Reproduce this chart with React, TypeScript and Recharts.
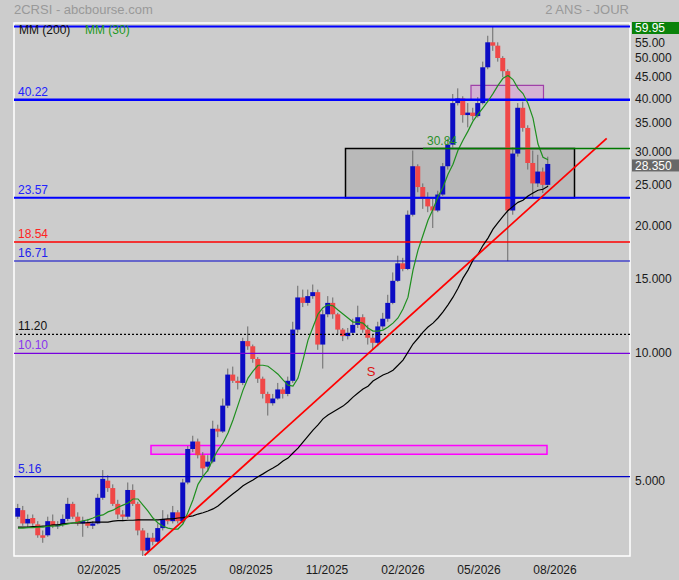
import React from "react";
import {
  ComposedChart,
  Bar,
  Line,
  XAxis,
  YAxis,
  ReferenceLine,
  ReferenceArea,
  ReferenceDot,
} from "recharts";

const FONT = "'Liberation Sans', Arial, sans-serif";

// x unit = one candle (about 4 sessions); candle i sits at x = i
const xTicks = [16.2, 31.4, 46.6, 61.8, 77.0, 92.2, 107.4];
const xTickLabels = ["02/2025", "05/2025", "08/2025", "11/2025", "02/2026", "05/2026", "08/2026"];

const yTicks = [5, 10, 15, 20, 25, 30, 35, 40, 45, 50, 55];
const yTickLabels = ["5.000", "10.000", "15.000", "20.000", "25.000", "30.000", "35.000", "40.000", "45.000", "50.000", "55.00"];

// open, high, low, close
const ohlc: [number, number, number, number][] = [
  [4.15, 4.45, 4.1, 4.35], [4.3, 4.4, 3.95, 4.0], [4.0, 4.2, 3.9, 4.1], [4.12, 4.2, 3.95, 4.0], [3.98, 4.05, 3.7, 3.75],
  [3.75, 3.85, 3.6, 3.7], [3.75, 4.15, 3.72, 4.05], [4.05, 4.2, 3.9, 3.95], [3.95, 4.05, 3.88, 3.97], [3.97, 4.2, 3.93, 4.1],
  [4.1, 4.6, 4.05, 4.45], [4.45, 4.5, 4.1, 4.15], [4.15, 4.25, 3.95, 4.0], [4.0, 4.15, 3.72, 4.05], [4.02, 4.1, 3.9, 3.95],
  [3.95, 4.05, 3.88, 4.0], [4.0, 4.7, 3.98, 4.6], [4.6, 5.35, 4.55, 5.1], [5.05, 5.2, 4.75, 4.85], [4.85, 4.95, 4.4, 4.45],
  [4.45, 4.55, 4.1, 4.2], [4.2, 4.3, 4.05, 4.15], [4.15, 5.0, 4.1, 4.8], [4.8, 4.95, 4.4, 4.45], [4.45, 4.5, 3.75, 3.85],
  [3.85, 3.9, 3.35, 3.45], [3.45, 3.8, 3.4, 3.7], [3.7, 3.8, 3.55, 3.62], [3.62, 4.0, 3.6, 3.9], [3.9, 4.3, 3.85, 4.1],
  [4.1, 4.2, 3.98, 4.05], [4.05, 4.4, 4.0, 4.25], [4.25, 4.3, 4.0, 4.05], [4.05, 5.1, 4.0, 5.0], [5.0, 6.1, 4.95, 6.0],
  [6.0, 6.45, 5.9, 6.25], [6.25, 6.35, 5.7, 5.8], [5.8, 5.9, 5.15, 5.4], [5.45, 5.8, 5.3, 5.6], [5.6, 7.0, 5.55, 6.7],
  [6.7, 6.85, 6.4, 6.6], [6.6, 7.9, 6.55, 7.6], [7.6, 9.3, 7.5, 9.0], [9.0, 9.4, 8.6, 8.7], [8.7, 8.9, 8.3, 8.6],
  [8.6, 11.0, 8.5, 10.8], [10.8, 11.7, 10.3, 10.5], [10.5, 10.6, 9.6, 9.8], [9.8, 9.9, 8.6, 8.8], [8.8, 8.9, 7.9, 8.1],
  [8.1, 8.2, 7.2, 7.7], [7.7, 8.1, 7.6, 7.9], [7.9, 8.6, 7.85, 8.3], [8.3, 8.4, 7.9, 8.1], [8.1, 8.9, 8.0, 8.7],
  [8.7, 12.0, 8.6, 11.5], [11.5, 14.6, 11.3, 13.7], [13.7, 14.3, 13.0, 13.3], [13.3, 14.3, 13.1, 13.8], [13.8, 14.7, 13.6, 14.1],
  [14.1, 14.3, 10.3, 10.6], [10.6, 12.8, 9.3, 12.5], [12.5, 13.8, 12.3, 13.3], [13.3, 13.7, 12.2, 12.5], [12.5, 12.6, 11.2, 11.5],
  [11.5, 11.6, 10.8, 11.1], [11.1, 11.6, 10.9, 11.3], [11.3, 12.2, 11.2, 11.8], [11.8, 13.1, 11.6, 12.3], [12.3, 12.5, 11.3, 11.5],
  [11.5, 11.8, 10.6, 11.0], [11.0, 11.2, 10.3, 10.7], [10.7, 12.0, 10.5, 11.7], [11.7, 12.6, 11.5, 12.2], [12.2, 13.9, 12.0, 13.3],
  [13.3, 15.7, 13.2, 15.0], [15.0, 17.2, 14.9, 16.5], [16.5, 17.0, 15.8, 16.0], [16.0, 22.0, 15.9, 21.5], [21.5, 30.5, 21.3, 28.0],
  [28.0, 28.3, 24.3, 25.0], [25.0, 25.5, 22.2, 23.5], [23.5, 24.3, 21.8, 22.5], [22.5, 23.5, 20.0, 22.0], [22.0, 24.5, 21.8, 24.0],
  [24.0, 28.5, 23.8, 28.0], [28.0, 32.5, 27.5, 31.5], [31.5, 41.5, 31.0, 39.5], [39.5, 42.8, 39.0, 40.5], [40.5, 41.0, 35.5, 37.0],
  [37.0, 39.5, 34.6, 37.5], [37.5, 38.5, 36.0, 36.8], [36.8, 40.8, 36.5, 39.5], [39.5, 49.5, 39.2, 48.0], [48.0, 57.0, 47.5, 55.0],
  [55.0, 59.9, 52.5, 54.0], [54.0, 55.0, 49.5, 50.5], [50.5, 51.0, 45.5, 47.0], [47.0, 47.5, 16.7, 22.0], [22.0, 31.0, 21.5, 30.0],
  [30.0, 39.5, 29.5, 38.5], [38.5, 39.8, 33.8, 34.5], [34.5, 35.0, 27.5, 28.5], [28.5, 30.5, 23.5, 25.5], [25.5, 29.8, 25.0, 27.2],
  [27.2, 27.8, 24.2, 25.3], [25.3, 29.5, 25.0, 28.35],
];

const ma30 = [
  3.9, 3.9, 3.91, 3.91, 3.92, 3.92, 3.94, 3.94, 3.95, 3.97,
  3.99, 4.01, 4.03, 4.06, 4.08, 4.12, 4.17, 4.19, 4.26, 4.3,
  4.37, 4.42, 4.47, 4.57, 4.57, 4.42, 4.28, 4.12, 4.01, 3.94,
  3.9, 3.88, 3.88, 3.99, 4.25, 4.55, 4.95, 5.17, 5.35, 5.68,
  5.97, 6.2, 6.55, 7.03, 7.62, 8.27, 8.83, 9.17, 9.47, 9.47,
  9.42, 9.22, 9.02, 8.74, 8.5, 8.45, 8.83, 9.74, 10.86, 11.66,
  12.52, 12.95, 13.16, 13.09, 12.79, 12.52, 12.25, 11.98, 11.98, 11.91,
  11.6, 11.41, 11.41, 11.47, 11.66, 11.91, 12.25, 12.86, 13.72, 15.9,
  17.73, 19.23, 20.87, 22.15, 23.7, 24.97, 26.8, 28.3, 30.55, 32.25,
  33.9, 35.8, 37.2, 38.5, 39.9, 41.6, 43.5, 45.2, 45.9, 44.9,
  42.8, 41.6, 39.4, 36.4, 31.6, 29.4, 29.0,
];

const ma200 = [
  3.92, 3.92, 3.92, 3.93, 3.93, 3.94, 3.95, 3.97, 3.97, 3.99,
  4.0, 4.01, 4.01, 4.01, 4.02, 4.03, 4.03, 4.03, 4.03, 4.05,
  4.06, 4.06, 4.07, 4.07, 4.08, 4.08, 4.08, 4.08, 4.08, 4.09,
  4.1, 4.1, 4.12, 4.13, 4.15, 4.17, 4.21, 4.24, 4.28, 4.33,
  4.4, 4.5, 4.6, 4.7, 4.8, 4.91, 4.99, 5.07, 5.16, 5.24,
  5.33, 5.41, 5.5, 5.62, 5.71, 5.87, 6.03, 6.23, 6.44, 6.65,
  6.84, 7.07, 7.22, 7.34, 7.46, 7.58, 7.75, 7.96, 8.14, 8.32,
  8.45, 8.69, 8.83, 8.98, 9.08, 9.22, 9.47, 9.74, 10.17, 10.63,
  10.97, 11.34, 11.66, 11.91, 12.25, 12.66, 13.16, 13.72, 14.41, 15.22,
  15.9, 16.79, 17.34, 18.2, 18.93, 19.87, 20.6, 21.3, 22.0, 22.5,
  23.0, 23.27, 23.8, 24.2, 24.57, 24.7, 25.1,
];

// horizontal levels drawn across the chart
const levelValues = [59.95, 40.22, 23.57, 18.54, 16.71, 11.2, 10.1, 5.16];
const levelLabels = ["", "40.22", "23.57", "18.54", "16.71", "11.20", "10.10", "5.16"];

const lastPrice = 28.35;
const resistance = 30.84;
const trendStart = { x: 25.3, y: 3.36 };
const trendEnd = { x: 117.74, y: 32.6 };
const zoneGray = { x1: 65.5, x2: 111.3, y1: 23.57, y2: 30.84 };
const zonePink = { x1: 90.6, x2: 105.1, y1: 40.22, y2: 43.5 };
const zoneMagenta = { x1: 26.6, x2: 105.8, y1: 5.83, y2: 6.12 };
const supportMark = { x: 70.6, y: 9.17, text: "S" };

const X_DOMAIN: [number, number] = [-0.8, 122.4];
const Y_DOMAIN: [number, number] = [3.35, 61.1];

const rows = ohlc.map(([o, h, l, c], i) => ({
  x: i,
  range: [l, h],
  o,
  h,
  l,
  c,
  ma30: ma30[i],
  ma200: ma200[i],
}));

const levelStyle = [
  { stroke: "#0000ff", width: 2, text: "#2222ff", dash: undefined },
  { stroke: "#0000ff", width: 2.5, text: "#2222ff", dash: undefined },
  { stroke: "#0000ff", width: 2, text: "#2222ff", dash: undefined },
  { stroke: "#ff0000", width: 1.5, text: "#ff2222", dash: undefined },
  { stroke: "#0000c8", width: 1.2, text: "#2222ee", dash: undefined },
  { stroke: "#000000", width: 1.2, text: "#111111", dash: "2 2" },
  { stroke: "#7700dd", width: 1.2, text: "#8833ee", dash: undefined },
  { stroke: "#0000c8", width: 1.2, text: "#2222ee", dash: undefined },
];

function Candle(props: any) {
  const { x, y, width, height, payload } = props;
  if (!payload || height == null || isNaN(y)) return null;
  const { o, h, l, c } = payload;
  const cx = x + width / 2;
  const lh = Math.log(h);
  const span = lh - Math.log(l) || 1;
  const yOf = (v: number) => y + ((lh - Math.log(v)) / span) * height;
  const yo = yOf(o);
  const yc = yOf(c);
  const top = Math.min(yo, yc);
  const bh = Math.max(Math.abs(yo - yc), 1.5);
  return (
    <g>
      <line x1={cx} x2={cx} y1={y} y2={y + height} stroke="#6a6a6a" strokeWidth={1} />
      <rect x={cx - 2.5} y={top} width={5} height={bh} fill={c >= o ? "#0c0cc4" : "#f04848"} />
    </g>
  );
}

function RightTick(props: any) {
  const { x, y, payload } = props;
  const i = yTicks.indexOf(payload.value);
  const shift = payload.value === 55 ? 0 : -2;
  return (
    <text x={x} y={y + shift} dy="0.35em" fontSize={12} fill="#1a1a1a" fontFamily={FONT} textAnchor="start">
      {yTickLabels[i]}
    </text>
  );
}

function PriceTag(props: any) {
  const { viewBox, text, bg } = props;
  if (!viewBox) return null;
  const left = viewBox.x + viewBox.width + 2;
  const cy = viewBox.y + 1.5;
  return (
    <g>
      <rect x={left} y={cy - 6} width={47} height={12} fill={bg} />
      <text x={left + 3} y={cy} dy="0.35em" fontSize={12} fill="#ffffff" fontFamily={FONT}>
        {text}
      </text>
    </g>
  );
}

export default function App() {
  return (
    <div
      style={{
        position: "relative",
        width: 679,
        height: 580,
        background: "#cccccc",
        fontFamily: FONT,
        overflow: "hidden",
      }}
    >
      <style>{"body{margin:0}"}</style>
      <div style={{ position: "absolute", left: 14, top: 2, fontSize: 13, lineHeight: "15px", color: "#999999" }}>
        2CRSI - abcbourse.com
      </div>
      <div style={{ position: "absolute", right: 50, top: 2, fontSize: 13, lineHeight: "15px", color: "#999999" }}>
        2 ANS - JOUR
      </div>
      <ComposedChart
        width={679}
        height={580}
        data={rows}
        margin={{ top: 23, right: 0, bottom: 0, left: 14 }}
        style={{ fontFamily: FONT }}
      >
        <XAxis
          type="number"
          dataKey="x"
          domain={X_DOMAIN}
          allowDataOverflow
          ticks={xTicks}
          interval={0}
          tickFormatter={(v: number) => xTickLabels[xTicks.indexOf(v)]}
          tick={{ fill: "#1a1a1a", fontSize: 12 }}
          tickLine={false}
          tickSize={0}
          tickMargin={9}
          axisLine={false}
          height={24}
        />
        <YAxis
          orientation="right"
          scale="log"
          domain={Y_DOMAIN}
          allowDataOverflow
          ticks={yTicks}
          interval={0}
          tick={<RightTick />}
          tickLine={false}
          tickSize={0}
          tickMargin={5}
          axisLine={false}
          width={49}
        />
        <ReferenceArea
          x1={X_DOMAIN[0]}
          x2={X_DOMAIN[1]}
          y1={Y_DOMAIN[0]}
          y2={Y_DOMAIN[1]}
          fill="none"
          stroke="#ffffff"
          strokeWidth={1.5}
          ifOverflow="visible"
        />
        <ReferenceArea {...zoneGray} fill="#b9b9b9" fillOpacity={1} stroke="#000000" strokeWidth={1.5} ifOverflow="visible" />
        <ReferenceArea {...zonePink} fill="#d4b2d4" fillOpacity={1} stroke="#a040a8" strokeWidth={1.2} ifOverflow="visible" />
        <ReferenceArea {...zoneMagenta} fill="#d6aed6" fillOpacity={1} stroke="#ff00ff" strokeWidth={1.5} ifOverflow="visible" />
        {levelValues.map((v, i) => (
          <ReferenceLine
            key={v}
            y={v}
            stroke={levelStyle[i].stroke}
            strokeWidth={levelStyle[i].width}
            strokeDasharray={levelStyle[i].dash}
            ifOverflow="visible"
            label={
              levelLabels[i]
                ? {
                    value: levelLabels[i],
                    position: "insideBottomLeft",
                    offset: 4,
                    fill: levelStyle[i].text,
                    fontSize: 12,
                    fontFamily: FONT,
                  }
                : undefined
            }
          />
        ))}
        <Bar dataKey="range" barSize={5} shape={<Candle />} isAnimationActive={false} />
        <Line dataKey="ma200" stroke="#000000" strokeWidth={1.2} dot={false} isAnimationActive={false} />
        <Line dataKey="ma30" stroke="#1f8f1f" strokeWidth={1.2} dot={false} isAnimationActive={false} />
        <ReferenceLine
          segment={[trendStart, trendEnd]}
          stroke="#ff0000"
          strokeWidth={1.8}
          ifOverflow="visible"
        />
        <ReferenceLine
          segment={[
            { x: 81, y: resistance },
            { x: X_DOMAIN[1], y: resistance },
          ]}
          stroke="#007a00"
          strokeWidth={1.5}
          ifOverflow="visible"
          label={{
            value: "30.84",
            position: "insideBottomLeft",
            offset: 4,
            fill: "#2a8f2a",
            fontSize: 12,
            fontFamily: FONT,
          }}
        />
        <ReferenceLine y={59.95} stroke="none" ifOverflow="visible" label={<PriceTag text="59.95" bg="#0a820a" />} />
        <ReferenceLine y={lastPrice} stroke="none" ifOverflow="visible" label={<PriceTag text="28.350" bg="#686868" />} />
        <ReferenceDot
          x={supportMark.x}
          y={supportMark.y}
          r={0}
          fill="none"
          stroke="none"
          ifOverflow="visible"
          label={{ value: supportMark.text, position: "center", fill: "#dd1111", fontSize: 13, fontFamily: FONT }}
        />
      </ComposedChart>
      <div style={{ position: "absolute", left: 19, top: 23, fontSize: 12, lineHeight: "14px", color: "#111111" }}>
        MM (200)
      </div>
      <div style={{ position: "absolute", left: 85, top: 23, fontSize: 12, lineHeight: "14px", color: "#229922" }}>
        MM (30)
      </div>
    </div>
  );
}
